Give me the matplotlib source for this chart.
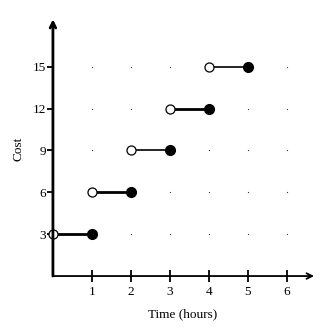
import numpy as np
import matplotlib.pyplot as plt

# datos de la funcion escalon (costo por hora)
inicio = [0, 1, 2, 3, 4]
fin = [1, 2, 3, 4, 5]
costo = [3, 6, 9, 12, 15]
xticks = [1, 2, 3, 4, 5, 6]
yticks = [3, 6, 9, 12, 15]

plt.rcParams['font.family'] = ['Liberation Serif', 'DejaVu Serif']

fig = plt.figure(figsize=(3.35, 3.35), dpi=100)
ax = fig.add_axes([0.158, 0.176, 0.776, 0.758])
ax.set_xlim(0, 6.67)
ax.set_ylim(0, 18.2)

# puntos de la cuadricula
gx, gy = np.meshgrid(xticks, yticks)
ax.scatter(gx.ravel(), gy.ravel(), s=0.8, color='#333333', lw=0, zorder=1)

grosor = [2.0, 2.0, 1.2, 2.0, 1.2]
for a, b, c, g in zip(inicio, fin, costo, grosor):
    ax.plot([a, b], [c, c], color='black', lw=g, zorder=2, solid_capstyle='butt')
    ax.plot(a, c, 'o', ms=6.5, mfc='white', mec='black', mew=0.9, zorder=3, clip_on=False)
    ax.plot(b, c, 'o', ms=7, mfc='black', mec='black', zorder=3)

for s in ax.spines.values():
    s.set_visible(False)

# ejes con flechas
ax.annotate('', xy=(6.7, 0), xytext=(0, 0), annotation_clip=False,
            arrowprops=dict(arrowstyle='->', lw=1.3, color='black', shrinkA=0, shrinkB=0,
                            mutation_scale=10))
ax.annotate('', xy=(0, 18.4), xytext=(0, 0), annotation_clip=False,
            arrowprops=dict(arrowstyle='->', lw=2.0, color='black', shrinkA=0, shrinkB=0,
                            mutation_scale=10))

ax.set_xticks(xticks)
ax.set_yticks(yticks)
ax.tick_params(axis='x', direction='inout', length=9, width=1.3, labelsize=9.5, pad=3)
ax.tick_params(axis='y', direction='out', length=4, width=1.3, labelsize=9.5, pad=1)

ax.set_xlabel('Time (hours)', fontsize=9.5, labelpad=7)
ax.set_ylabel('Cost', fontsize=9.5, labelpad=6)

fig.savefig('out.png', dpi=100)
